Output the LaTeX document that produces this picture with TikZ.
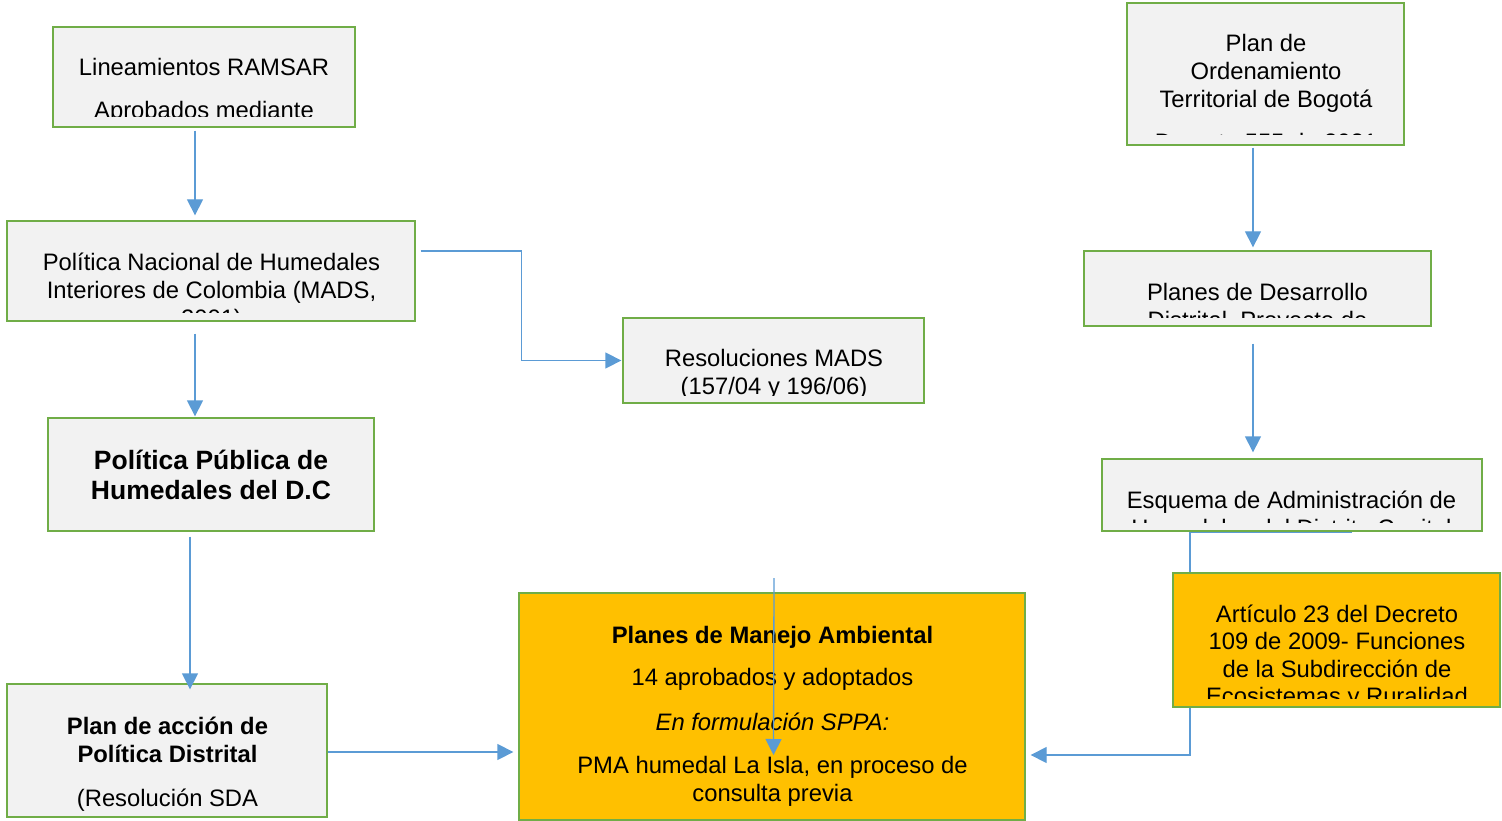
\documentclass[tikz,border=0pt]{standalone}
\usepackage{fontspec}
\setmainfont{Liberation Sans}
\usetikzlibrary{arrows.meta,fit}
\definecolor{boxgray}{HTML}{F2F2F2}
\definecolor{boxgreen}{HTML}{70AD47}
\definecolor{boxorange}{HTML}{FFC000}
\definecolor{arrowblue}{HTML}{5B9BD5}
\tikzset{
  gbox/.style={draw=boxgreen, fill=boxgray, line width=1.3pt, inner sep=0pt},
  obox/.style={draw=boxgreen, fill=boxorange, line width=1.3pt, inner sep=0pt},
  txt/.style={align=center, inner sep=0pt, anchor=north, font=\fontsize{23.8}{28}\selectfont},
  arr/.style={draw=arrowblue, line width=1.3pt, -{Triangle[length=16pt,width=16pt]}}
}
\begin{document}
\begin{tikzpicture}[x=1pt,y=-1pt]
\useasboundingbox (0,0) rectangle (1502,821);
% Lineamientos RAMSAR
\node[gbox, fit={(53,27)(355,127)}] (B1) {};
\begin{scope}
\clip (53,27) rectangle (355,117);
\node[txt] (T1) at (204,53) {\rule{0pt}{22pt}Lineamientos RAMSAR\\[15pt]Aprobados mediante};
\end{scope}
% Plan de Ordenamiento
\node[gbox, fit={(1127,3)(1404,145)}] (B2) {};
\begin{scope}
\clip (1127,3) rectangle (1404,135);
\node[txt] (T2) at (1266,29) {\rule{0pt}{22pt}Plan de\\Ordenamiento\\Territorial de Bogotá\\[15pt]Decreto 555 de 2021};
\end{scope}
% Politica Nacional
\node[gbox, fit={(7,221)(415,321)}] (B3) {};
\begin{scope}
\clip (7,221) rectangle (415,312);
\node[txt] (T3) at (211.5,248) {\rule{0pt}{22pt}Política Nacional de Humedales\\Interiores de Colombia (MADS,\\2001)};
\end{scope}
% Resoluciones
\node[gbox, fit={(623,318)(924,403)}] (B4) {};
\begin{scope}
\clip (623,318) rectangle (924,395);
\node[txt] (T4) at (774,344) {\rule{0pt}{22pt}Resoluciones MADS\\(157/04 y 196/06)};
\end{scope}
% Politica Publica
\node[gbox, fit={(48,418)(374,531)}] (B5) {};
\node[txt, font=\fontsize{26.5}{30}\selectfont\bfseries] (T5) at (211,445) {\rule{0pt}{24pt}Política Pública de\\Humedales del D.C};
% Planes de Desarrollo
\node[gbox, fit={(1084,251)(1431,326)}] (B6) {};
\begin{scope}
\clip (1084,251) rectangle (1431,317);
\node[txt] (T6) at (1257.5,278) {\rule{0pt}{22pt}Planes de Desarrollo\\Distrital, Proyecto de};
\end{scope}
% Esquema
\node[gbox, fit={(1102,459)(1482,531)}] (B7) {};
\begin{scope}
\clip (1102,459) rectangle (1482,522);
\node[txt] (T7) at (1291.5,486) {\rule{0pt}{22pt}Esquema de Administración de\\Humedales del Distrito Capital};
\end{scope}
% Plan de accion
\node[gbox, fit={(7,684)(327,817)}] (B9) {};
\node[txt] (T9) at (167.5,712) {\rule{0pt}{22pt}\textbf{Plan de acción de}\\\textbf{Política Distrital}\\[16pt](Resolución SDA};
% Planes de Manejo Ambiental
\node[obox, fit={(519,593)(1025,820)}] (B10) {};
\node[txt] (T10) at (772.5,621) {\rule{0pt}{22pt}\textbf{Planes de Manejo Ambiental}\\[14pt]14 aprobados y adoptados\\[17pt]\textit{En formulación SPPA:}\\[15pt]PMA humedal La Isla, en proceso de\\consulta previa};
% connectors
\draw[arr] ([xshift=-9pt,yshift=-3pt]B1.south) -- ([xshift=-16pt,yshift=5pt]B3.north);
\draw[arr] ([xshift=-16pt,yshift=-12pt]B3.south) -- ([xshift=-16pt,yshift=1pt]B5.north);
\draw[arr] ([xshift=5pt,yshift=20pt]B3.east) -- ++(101,0) |- ([xshift=-1pt]B4.west);
\draw[arr] ([xshift=-21pt,yshift=-5pt]B5.south) -- ([xshift=23pt,yshift=-6pt]B9.north);
\draw[arr] ([yshift=-1.5pt]B9.east) -- ([xshift=-5pt,yshift=-45.5pt]B10.west);
\draw[arr] ([xshift=-12.5pt,yshift=-2pt]B2.south) -- ([xshift=-4.5pt,yshift=3pt]B6.north);
\draw[arr] ([xshift=-4.5pt,yshift=-17pt]B6.south) -- ([xshift=-39pt,yshift=6pt]B7.north);
\draw[arr] ([xshift=60pt,yshift=-1pt]B7.south) -- ++(-162,0) |- ([xshift=5pt,yshift=-48.5pt]B10.east);
\coordinate (C9) at (774,578);
\draw[arr] (C9) -- ([xshift=1.5pt,yshift=-48.5pt]B10.center);
% Articulo 23
\node[obox, fit={(1173,573)(1500,707)}] (B8) {};
\begin{scope}
\clip (1173,573) rectangle (1500,698);
\node[txt, font=\fontsize{23.8}{27.5}\selectfont] (T8) at (1337,600) {\rule{0pt}{22pt}Artículo 23 del Decreto\\109 de 2009- Funciones\\de la Subdirección de\\Ecosistemas y Ruralidad};
\end{scope}
\end{tikzpicture}
\end{document}
